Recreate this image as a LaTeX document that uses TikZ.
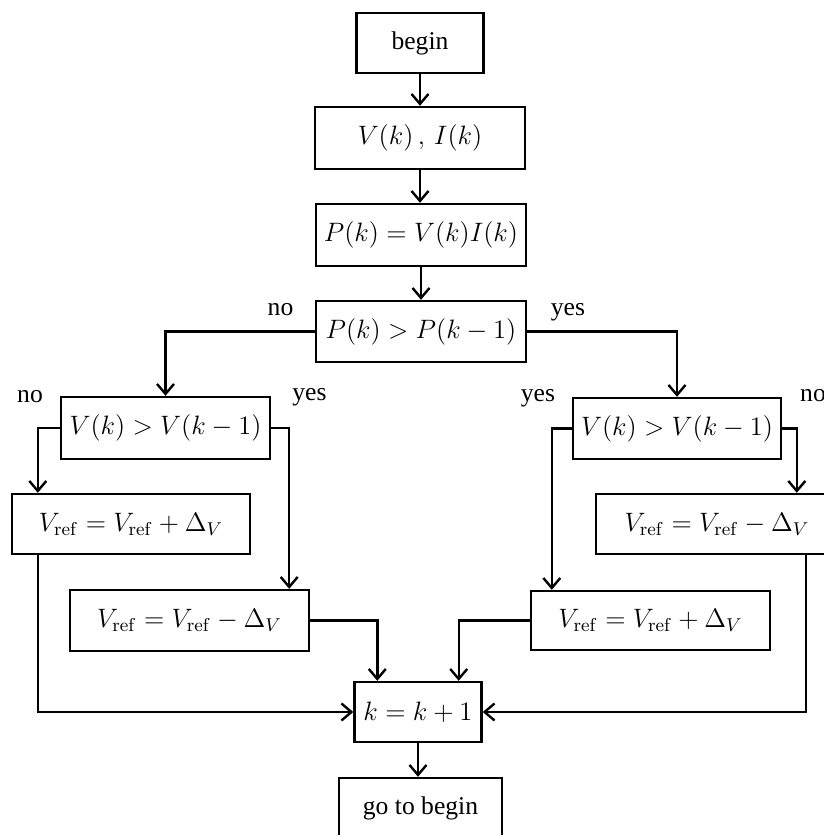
\RequirePackage{fix-cm}
\documentclass[tikz,border=0pt]{standalone}
\usepackage[no-math]{fontspec}
\setmainfont{Liberation Serif}
\usetikzlibrary{arrows.meta}
\tikzset{
  box/.style={draw, line width=1.2pt, inner sep=0pt, align=center, font=\fontsize{13.3}{16}\selectfont},
  tbox/.style={box, font=\fontsize{12.8}{15}\selectfont},
  arr/.style={line width=1.2pt, -{Straight Barb[length=5pt,width=8.5pt,line width=1.2pt]}},
  lbl/.style={inner sep=0pt, anchor=base, font=\fontsize{12.8}{15}\selectfont}
}
\begin{document}
\begin{tikzpicture}[x=0.5pt,y=-0.5pt]
\useasboundingbox (0,0) rectangle (824,835);
\clip (0,0) rectangle (824,835);
% nodes
\node[tbox, minimum width=63.5pt, minimum height=30pt] (begin) at (420,43) {begin};
\node[box, minimum width=105pt, minimum height=31pt] (vi) at (420,138) {$V(k)\,,\,I(k)$};
\node[box, minimum width=105pt, minimum height=31pt] (p) at (421,235) {$P(k) = V(k)I(k)$};
\node[box, minimum width=105pt, minimum height=30.5pt] (cond) at (421,331.5) {$P(k) > P(k-1)$};
\node[box, minimum width=104.5pt, minimum height=31pt] (lcond) at (165.5,428) {$V(k) > V(k-1)$};
\node[box, minimum width=104pt, minimum height=30.5pt] (rcond) at (677,428.5) {$V(k) > V(k-1)$};
\node[box, minimum width=119pt, minimum height=30pt] (lplus) at (131,524) {$V_{\mathrm{ref}} = V_{\mathrm{ref}} + \Delta_V$};
\node[box, minimum width=119.5pt, minimum height=30.5pt] (lminus) at (189.5,620.5) {$V_{\mathrm{ref}} = V_{\mathrm{ref}} - \Delta_V$};
\node[box, minimum width=119.5pt, minimum height=29.5pt] (rplus) at (650.5,620.5) {$V_{\mathrm{ref}} = V_{\mathrm{ref}} + \Delta_V$};
\node[box, minimum width=121pt, minimum height=30pt] (rminus) at (717,524) {$V_{\mathrm{ref}} = V_{\mathrm{ref}} - \Delta_V$};
\node[box, minimum width=63.5pt, minimum height=30pt] (kk) at (418,712) {$k = k+1$};
\node[tbox, minimum width=81.5pt, minimum height=30pt] (goto) at (420.5,808) {go to begin};
% labels
\node[lbl] (l1) at (280.5,315) {no};
\node[lbl] (l2) at (568,315) {yes};
\node[lbl] (l3) at (30,402) {no};
\node[lbl] (l4) at (309.5,400) {yes};
\node[lbl] (l5) at (538,401) {yes};
\node[lbl] (l6) at (813,401) {no};
% connectors
\draw[arr] (begin) -- (vi);
\draw[arr] (vi) -- (vi |- p.north);
\draw[arr] (p) -- (p |- cond.north);
\draw[arr] (cond.west) -| (lcond.north);
\draw[arr] (cond.east) -| (rcond.north);
\draw[arr] (lcond.west) -| ([xshift=13.5pt]lplus.north west);
\draw[arr] (lcond.east) -| ([xshift=-10.5pt]lminus.north east);
\draw[arr] (rcond.west) -| ([xshift=11pt]rplus.north west);
\draw[arr] (rcond.east) -| ([xshift=101pt]rminus.north west);
\draw[arr] ([xshift=13.5pt]lplus.south west) |- (kk.west);
\draw[arr] (lminus.east) -| ([xshift=12pt]kk.north west);
\draw[arr] (rplus.west) -| ([xshift=-12pt]kk.north east);
\draw[arr] ([xshift=105.5pt]rminus.south west) |- (kk.east);
\draw[arr] (kk) -- (kk |- goto.north);
\end{tikzpicture}
\end{document}
